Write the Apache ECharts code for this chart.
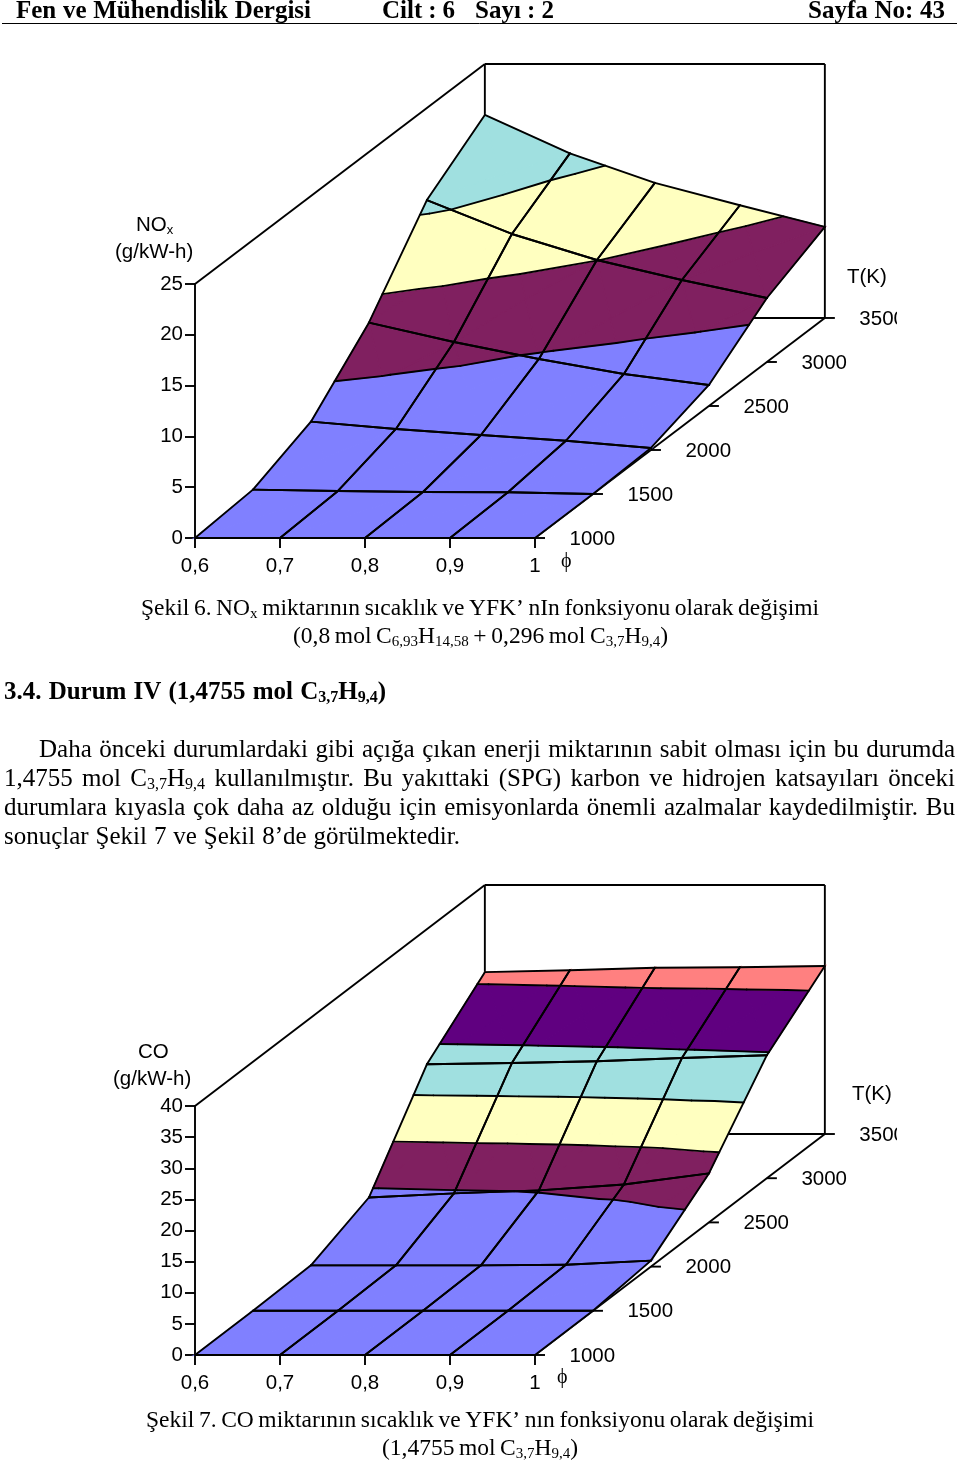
<!DOCTYPE html>
<html><head><meta charset="utf-8">
<style>html,body{margin:0;padding:0;background:#fff}#c{width:960px;height:1464px}</style>
<script src="https://cdn.jsdelivr.net/npm/echarts@6/dist/echarts.min.js"></script>
</head><body><div id="c"></div>
<script>
// ---- data ----
const phiValues = [0.6, 0.7, 0.8, 0.9, 1];
const tempValues = [1000, 1500, 2000, 2500, 3000, 3500];
const noxT1000 = [0, 0, 0, 0, 0];
const noxT1500 = [0.43, 0.3, 0.2, 0.17, 0];
const noxT2000 = [2.79, 2.07, 1.48, 0.91, 0.2];
const noxT2500 = [8.2, 6.3, 4.63, 3.15, 2.07];
const noxT3000 = [15.94, 12.6, 10.04, 8.07, 6.3];
const noxT3500 = [19.98, 16.2, 13.3, 11.1, 8.96];
const coT1000 = [0, 0, 0, 0, 0];
const coT1500 = [0, 0, 0, 0, 0];
const coT2000 = [0.2, 0.2, 0.2, 0.3, 0.96];
const coT2500 = [4.0, 4.66, 5.14, 6.1, 7.87];
const coT3000 = [18.3, 18.5, 18.8, 19.3, 19.76];
const coT3500 = [26.0, 26.3, 26.7, 26.8, 27];
const bandColors = ['#8080ff', '#802060', '#ffffc0', '#a0e0e0', '#600080', '#ff8080'];
const bandStep = 5;

const SERIF = '"Liberation Serif"', SANS = '"Liberation Sans"';
const LINE = 1.9;
const AXIS_FONT = 20.5;

// ---- surface helpers ----
function lerp(a, b, t) { return [a[0] + (b[0] - a[0]) * t, a[1] + (b[1] - a[1]) * t, a[2] + (b[2] - a[2]) * t]; }
function clipAbove(poly, L, sign) {
  const out = [];
  for (let i = 0; i < poly.length; i++) {
    const p = poly[i], q = poly[(i + 1) % poly.length];
    const a = sign * (p[2] - L), b = sign * (q[2] - L);
    if (a >= 0) out.push(p);
    if ((a >= 0) !== (b >= 0)) out.push(lerp(p, q, a / (a - b)));
  }
  return out;
}
function makeChart(idx, surface, shear) {
  // oblique projection expressed in data units of the (phi, z) axes
  const P = (iPhi, iT, z) => [phiValues[iPhi] + iT * shear[0], z + iT * shear[1], z];
  const quads = [];
  for (let t = surface.length - 2; t >= 0; t--) for (let p = 0; p < phiValues.length - 1; p++) quads.push([phiValues[p], surface[t][p], p, t]);
  const corners = (p, t) => [P(p, t, surface[t][p]), P(p + 1, t, surface[t][p + 1]), P(p + 1, t + 1, surface[t + 1][p + 1]), P(p, t + 1, surface[t + 1][p])];
  const tris = (c) => {
    const m = [0, 1, 2].map(k => (c[0][k] + c[1][k] + c[2][k] + c[3][k]) / 4);
    return [0, 1, 2, 3].map(i => [c[i], c[(i + 1) % 4], m]);
  };
  const fillSeries = {
    type: 'custom', xAxisIndex: idx, yAxisIndex: idx, z: 3, silent: true, data: quads,
    renderItem(params, api) {
      const p = api.value(2), t = api.value(3), children = [];
      tris(corners(p, t)).forEach(tr => {
        bandColors.forEach((col, b) => {
          let poly = clipAbove(tr, b * bandStep, 1);
          if (poly.length) poly = clipAbove(poly, (b + 1) * bandStep, -1);
          if (poly.length < 3) return;
          children.push({ type: 'polygon', shape: { points: poly.map(v => api.coord([v[0], v[1]])) }, style: { fill: col, stroke: col, lineWidth: 1.2 } });
        });
      });
      return { type: 'group', children };
    }
  };
  const lineSeries = {
    type: 'custom', xAxisIndex: idx, yAxisIndex: idx, z: 4, silent: true, data: quads,
    renderItem(params, api) {
      const p = api.value(2), t = api.value(3), children = [];
      const seg = (a, b) => { const A = api.coord([a[0], a[1]]), B = api.coord([b[0], b[1]]); children.push({ type: 'line', shape: { x1: A[0], y1: A[1], x2: B[0], y2: B[1] }, style: { stroke: '#000', lineWidth: LINE, lineCap: 'round' } }); };
      const c = corners(p, t);
      tris(c).forEach(tr => {
        for (let b = 1; b < bandColors.length; b++) {
          const L = b * bandStep, pts = [];
          for (let i = 0; i < 3; i++) {
            const u = tr[i], v = tr[(i + 1) % 3];
            if ((u[2] >= L) !== (v[2] >= L)) pts.push(lerp(u, v, (L - u[2]) / (v[2] - u[2])));
          }
          if (pts.length === 2) seg(pts[0], pts[1]);
        }
      });
      for (let i = 0; i < 4; i++) seg(c[i], c[(i + 1) % 4]);
      return { type: 'group', children };
    }
  };
  // box frame: uses the same projection on axis extents
  const zMax = idx === 0 ? 25 : 40, nT = tempValues.length - 1;
  const xMin = phiValues[0], xMax = phiValues[4];
  const frameSeries = {
    type: 'custom', xAxisIndex: idx, yAxisIndex: idx, z: 2, silent: true, data: [[xMin, 0]],
    renderItem(params, api) {
      const seg = (a, b) => { const A = api.coord(a), B = api.coord(b); return { type: 'line', shape: { x1: A[0], y1: A[1], x2: B[0], y2: B[1] }, style: { stroke: '#000', lineWidth: LINE } }; };
      const sx = nT * shear[0], sz = nT * shear[1];
      return { type: 'group', children: [
        seg([xMin, zMax], [xMin + sx, zMax + sz]),
        seg([xMin + sx, zMax + sz], [xMax + sx, zMax + sz]),
        seg([xMax + sx, zMax + sz], [xMax + sx, sz]),
        seg([xMin + sx, zMax + sz], [xMin + sx, sz]),
        seg([xMin + sx, sz], [xMax + sx, sz]),
        seg([xMax, 0], [xMax + sx, sz])
      ] };
    }
  };
  // depth axis: ticks and labels
  const depthSeries = {
    type: 'custom', xAxisIndex: idx, yAxisIndex: idx, z: 5, silent: true, data: tempValues.map((v, i) => [xMax, 0, i, v]),
    renderItem(params, api) {
      const i = api.value(2);
      const A = api.coord([xMax + i * shear[0], i * shear[1]]);
      return { type: 'group', children: [
        { type: 'line', shape: { x1: A[0], y1: A[1], x2: A[0] + 10, y2: A[1] }, style: { stroke: '#000', lineWidth: LINE } },
        { type: 'text', x: A[0] + 34.5, y: A[1] + 1, style: { text: String(api.value(3)), fontFamily: SANS, fontSize: AXIS_FONT, fill: '#000', align: 'left', verticalAlign: 'middle' } }
      ] };
    }
  };
  return [frameSeries, fillSeries, lineSeries, depthSeries];
}

// ---- page text: every line is one rich text, gaps set so it spans its printed width ----
const mctx = document.createElement('canvas').getContext('2d');
function textLine(src, x0, x1, yc, size, bold, fam) {
  fam = fam || SERIF;
  const w = bold ? 'bold ' : '';
  const subSize = Math.round(size * 0.62);
  const words = src.split(' ').map(word => word.split('~').map((r, i) => ({ r, sub: i % 2 === 1 })).filter(o => o.r));
  let total = 0;
  words.forEach(runs => runs.forEach(o => {
    mctx.font = w + (o.sub ? subSize : size) + 'px ' + fam;
    total += mctx.measureText(o.r).width;
  }));
  const gap = words.length > 1 ? (x1 - x0 - total) / (words.length - 1) : 0;
  const text = words.map(runs => runs.map(o => (o.sub ? '{s|' : '{n|') + o.r + '}').join('')).join('{g| }');
  const base = { fontFamily: fam, fontWeight: bold ? 'bold' : 'normal', fill: '#000' };
  return {
    type: 'text', x: x0, y: yc + 1.5, z: 50,
    style: {
      text, align: 'left', verticalAlign: 'middle', fontFamily: fam, fontSize: size, fill: '#000',
      rich: {
        n: { ...base, fontSize: size, lineHeight: size + 2, verticalAlign: 'middle' },
        s: { ...base, fontSize: subSize, lineHeight: subSize, verticalAlign: 'bottom' },
        g: { ...base, fontSize: size, lineHeight: size + 2, width: gap }
      }
    }
  };
}
const pageText = [
  textLine('Fen ve Mühendislik Dergisi', 16, 311, 10, 25, true),
  textLine('Cilt : 6', 382, 455, 10, 25, true),
  textLine('Sayı : 2', 475, 554, 10, 25, true),
  textLine('Sayfa No: 43', 808, 945, 10, 25, true),
  textLine('Şekil 6. NO~x~ miktarının sıcaklık ve YFK’ nIn fonksiyonu olarak değişimi', 141, 819, 607, 23.5),
  textLine('(0,8 mol C~6,93~H~14,58~ + 0,296 mol C~3,7~H~9,4~)', 293, 668, 635, 23.5),
  textLine('3.4. Durum IV (1,4755 mol C~3,7~H~9,4~)', 4, 386, 691, 25, true),
  textLine('Daha önceki durumlardaki gibi açığa çıkan enerji miktarının sabit olması için bu durumda', 39, 955, 749, 25),
  textLine('1,4755 mol C~3,7~H~9,4~ kullanılmıştır. Bu yakıttaki (SPG) karbon ve hidrojen katsayıları önceki', 4, 955, 778, 25),
  textLine('durumlara kıyasla çok daha az olduğu için emisyonlarda önemli azalmalar kaydedilmiştir. Bu', 4, 955, 807, 25),
  textLine('sonuçlar Şekil 7 ve Şekil 8’de görülmektedir.', 4, 460, 836, 25),
  textLine('Şekil 7. CO miktarının sıcaklık ve YFK’ nın fonksiyonu olarak değişimi', 146, 814, 1419, 23.5),
  textLine('(1,4755 mol C~3,7~H~9,4~)', 382, 578, 1447, 23.5),
  // axis captions
  textLine('NO~x~', 136, 175, 224, AXIS_FONT, false, SANS),
  textLine('(g/kW-h)', 115, 194, 251, AXIS_FONT, false, SANS),
  textLine('T(K)', 847, 887, 276, AXIS_FONT, false, SANS),
  textLine('ϕ', 561, 573, 560, 20, false, SERIF),
  textLine('CO', 138, 169, 1051, AXIS_FONT, false, SANS),
  textLine('(g/kW-h)', 113, 194, 1078, AXIS_FONT, false, SANS),
  textLine('T(K)', 852, 892, 1093, AXIS_FONT, false, SANS),
  textLine('ϕ', 557, 569, 1376, 20, false, SERIF),
];
const pageMarks = [
  { type: 'line', z: 50, shape: { x1: 2, y1: 23.5, x2: 957, y2: 23.5 }, style: { stroke: '#000', lineWidth: 1 } },
  { type: 'rect', z: 60, shape: { x: 897, y: 305, width: 63, height: 26 }, style: { fill: '#fff' } },
  { type: 'rect', z: 60, shape: { x: 897, y: 1121, width: 63, height: 26 }, style: { fill: '#fff' } }
];

function xAxisOf(gridIndex) {
  return {
    type: 'value', gridIndex, min: 0.6, max: 1, interval: 0.1, splitLine: { show: false },
    axisLine: { show: true, onZero: false, lineStyle: { color: '#000', width: LINE } },
    axisTick: { show: true, length: 10, lineStyle: { color: '#000', width: LINE } },
    axisLabel: { color: '#000', fontFamily: SANS, fontSize: AXIS_FONT, margin: 18, hideOverlap: false, showMinLabel: true, showMaxLabel: true,
      formatter: v => (+v.toFixed(1) === 1 ? '1' : v.toFixed(1).replace('.', ',')) }
  };
}
function yAxisOf(gridIndex, max) {
  return {
    type: 'value', gridIndex, min: 0, max, interval: 5, splitLine: { show: false },
    axisLine: { show: true, onZero: false, lineStyle: { color: '#000', width: LINE } },
    axisTick: { show: true, length: 10, lineStyle: { color: '#000', width: LINE } },
    axisLabel: { color: '#000', fontFamily: SANS, fontSize: AXIS_FONT, margin: 12, showMinLabel: true, showMaxLabel: true }
  };
}

const chart = echarts.init(document.getElementById('c'), null, { width: 960, height: 1464 });
chart.setOption({
  animation: false, backgroundColor: '#fff', tooltip: { show: false },
  grid: [
    { left: 195, width: 340, top: 284, height: 254 },
    { left: 195, width: 340, top: 1106, height: 249 }
  ],
  xAxis: [xAxisOf(0), xAxisOf(1)],
  yAxis: [yAxisOf(0, 25), yAxisOf(1, 40)],
  series: [
    ...makeChart(0, [noxT1000, noxT1500, noxT2000, noxT2500, noxT3000, noxT3500], [0.0682, 4.331]),
    ...makeChart(1, [coT1000, coT1500, coT2000, coT2500, coT3000, coT3500], [0.0682, 7.1])
  ],
  graphic: { elements: [...pageMarks, ...pageText] }
});
</script></body></html>
